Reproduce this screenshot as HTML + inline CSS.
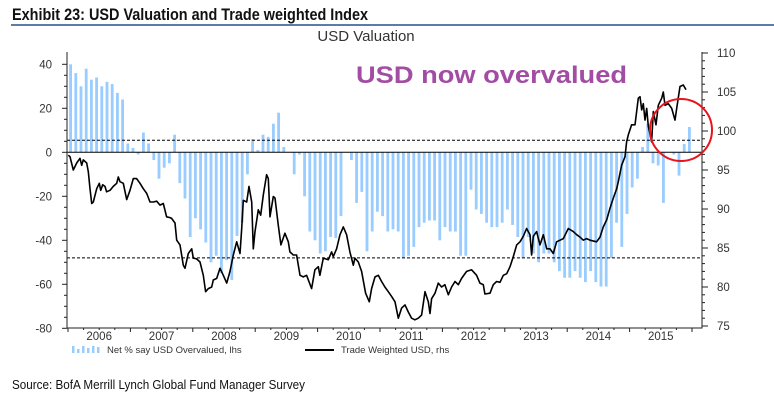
<!DOCTYPE html>
<html><head><meta charset="utf-8"><style>
html,body{margin:0;padding:0;background:#fff;}
svg{display:block;font-family:"Liberation Sans",Arial,sans-serif;}
</style></head><body>
<svg id="chart" width="774" height="407" viewBox="0 0 774 407" xmlns="http://www.w3.org/2000/svg">
<text x="12" y="20" font-size="17" font-weight="bold" fill="#111" textLength="356" lengthAdjust="spacingAndGlyphs">Exhibit 23: USD Valuation and Trade weighted Index</text>
<rect x="11" y="24" width="763" height="2" fill="#5b7ba8"/>
<text x="366" y="41" font-size="15" fill="#333" text-anchor="middle">USD Valuation</text>
<g id="plot"></g>
<text x="356" y="83" font-size="24" font-weight="bold" fill="#a24ca4" textLength="271" lengthAdjust="spacingAndGlyphs">USD now overvalued</text>
<ellipse cx="681" cy="130" rx="31" ry="31" fill="none" stroke="#e8141c" stroke-width="2"/>
<g>
<g fill="#99ccff">
<rect x="72" y="346" width="2.5" height="7"/><rect x="77" y="349" width="2.5" height="4"/><rect x="82" y="346" width="2.5" height="7"/><rect x="87" y="348" width="2.5" height="5"/><rect x="92" y="346" width="2.5" height="7"/><rect x="97" y="347" width="2.5" height="6"/>
</g>
<text x="107" y="353" font-size="9.5" fill="#333">Net % say USD Overvalued, lhs</text>
<rect x="305" y="349" width="29" height="2" fill="#000"/>
<text x="341" y="353" font-size="9.5" fill="#333">Trade Weighted USD, rhs</text>
</g>
<text x="12" y="389" font-size="13" fill="#111" textLength="293" lengthAdjust="spacingAndGlyphs">Source: BofA Merrill Lynch Global Fund Manager Survey</text>
</svg>
<script>
// Monthly bars, Jan 2006 onwards (month index = array position)
const barValues = [40,36,30,38,33,34,30,32,31,27,24,4,2,-1,9,4,-3.5,-12,-7,-5,8,-14,-21,-38.5,-30,-35,-41,-50,-47,-55,-49,-58,-38,-32,-10,6,1,8,7,13,18,2.4,0,-10,-1,-20,-36,-40,-46,-45,-38.5,-39,-29,0,-3.5,-23,-18,-45,-36,-27,-29,-36,-35,-36,-48,-47,-43,-34,-32,-31,-31,-40,-34,-36,-36,-47,-47,-17,-26,-28,-32,-34,-34,-32,-26,-33,-38.5,-48,-38.5,-46,-50,-46,-46,-50,-54,-57,-57,-54,-57,-59,-54,-59,-61,-61,-48,-32,-43,-28,-16,-12,2.4,13,-5,-6,-23,0,-1,-10.6,3.8,11.5];
// Trade weighted USD: month index (from Jan 2006) and value
const lineMonths = [0.06,0.38,1.02,1.67,2.31,2.63,2.95,3.27,3.59,3.91,4.23,4.55,4.87,5.51,6.02,6.28,6.67,7.11,7.43,8.08,8.72,9.36,9.68,10,10.64,11.28,11.92,12.56,13.2,13.84,14.49,15.13,15.77,16.41,17.05,17.69,18.33,18.97,19.61,19.93,20.58,20.9,21.54,22.18,22.5,23.14,23.78,24.1,24.74,25.38,26.02,26.47,26.99,27.63,27.95,28.59,29.23,29.87,30.51,31.15,31.79,32.44,33.08,33.4,33.72,34.36,34.81,35.32,35.64,35.96,36.6,37.05,37.56,38.2,38.52,38.85,39.49,39.8,40.44,40.95,41.72,42.36,42.68,43.33,43.97,44.61,45.25,45.89,46.85,47.49,48.13,48.45,49.1,50.06,50.7,51.02,51.66,52.3,52.94,53.58,54.22,54.86,55.18,55.83,56.47,57.24,57.94,58.39,59.03,59.67,60.31,60.95,61.6,62.24,62.88,63.52,64.16,64.8,65.44,66.08,66.72,67.36,68,68.65,69.29,69.61,69.93,70.57,71.21,71.85,72.49,73.13,73.77,74.42,75.06,75.7,76.66,77.62,78.58,79.22,79.86,80.18,81.15,81.79,82.43,83.07,83.71,84.36,85,85.64,86.28,86.92,87.56,88.2,88.84,89.16,89.48,90.12,90.77,91.41,92.05,92.69,93.33,93.97,94.61,95.25,96.21,97.18,97.82,98.46,99.1,99.74,100.38,101.66,102.3,102.95,103.59,104.23,104.87,105.51,105.83,106.47,107.11,107.43,107.75,108.39,109.03,109.68,110,110.32,110.64,110.96,111.28,111.6,112.24,112.56,113.07,113.52,114.17,114.49,114.8,115.45,116.09,116.73,117.05,117.69,118.33,118.84];
const lineValues = [96.9,96.7,95.0,95.9,96.5,95.6,96.3,96.1,95.9,94.8,92.6,90.7,90.9,92.6,93.3,92.4,93.1,92.9,92.2,92.4,92.9,93.3,94.1,93.5,93.3,91.2,92.4,93.9,93.9,93.3,92.6,92.0,90.9,90.9,91.0,90.5,90.7,89.0,88.9,88.8,88.2,86.0,85.4,82.8,82.4,84.3,84.9,83.7,83.6,83.2,81.5,79.4,79.8,80.0,80.9,81.1,82.4,81.5,80.5,82.0,84.1,85.8,84.3,87.5,91.1,90.9,92.9,90.9,84.9,87.1,89.9,89.2,91.8,94.4,93.9,89.0,91.6,91.4,87.9,85.4,86.9,85.8,84.5,84.1,84.1,81.5,81.3,81.5,79.8,82.2,82.6,81.5,83.7,83.5,84.5,83.9,84.9,86.7,87.7,86.7,84.5,82.8,83.7,83.2,82.0,79.2,78.1,79.8,81.3,81.5,80.7,80.0,79.4,78.8,78.1,76.0,77.3,77.7,76.8,76.0,75.8,76.0,76.4,79.4,78.1,76.6,78.5,79.2,80.5,80.0,80.3,79.0,80.0,80.7,80.3,81.1,82.0,82.2,81.5,80.5,80.3,79.1,79.2,80.3,80.7,80.6,81.5,81.7,82.6,83.9,85.4,85.8,86.5,87.5,86.7,84.1,86.5,87.1,85.4,86.7,84.9,84.9,84.3,85.8,86.0,86.2,87.5,87.1,86.7,86.4,86.0,86.2,86.0,85.8,86.4,87.7,88.6,90.1,91.4,92.6,93.5,95.6,96.7,98.6,99.5,100.8,100.8,104.2,104.4,102.7,103.5,101.4,102.9,100.6,98.6,102.5,100.8,103.3,104.2,105.0,103.3,103.5,102.9,101.4,102.9,105.7,105.9,105.3];
const yearLabels = ["2006","2007","2008","2009","2010","2011","2012","2013","2014","2015"];
const leftTicks = [40,20,0,-20,-40,-60,-80];
const rightTicks = [110,105,100,95,90,85,80,75];
const refLines = [5.5,-48];

const NS="http://www.w3.org/2000/svg";
const plot=document.getElementById('plot');
const X0=68, MW=5.2, AXL=67, AXR=702;
const xm = m => X0 + m*MW;
const yl = v => 152.3 - v*2.2;
const yr = v => 53 + (110-v)*7.8;
function mk(tag,attrs){const e=document.createElementNS(NS,tag);for(const k in attrs)e.setAttribute(k,attrs[k]);plot.appendChild(e);return e;}

// bars
barValues.forEach((v,i)=>{
  const y0=yl(0), y1=yl(v);
  const r=mk('rect',{x:xm(i+0.5)-1.4,y:Math.min(y0,y1),width:2.8,height:Math.max(0.01,Math.abs(y1-y0)),fill:'#99ccff'});
  
  
});
// zero and reference lines
const z=mk('line',{x1:AXL,x2:AXR,y1:yl(0),y2:yl(0),stroke:'#000','stroke-width':1});


refLines.forEach((v,i)=>{
  const l=mk('line',{x1:AXL,x2:AXR,y1:yl(v),y2:yl(v),stroke:'#000','stroke-width':1,'stroke-dasharray':'3,2'});
  
  
});
// line series
let d='';
lineMonths.forEach((m,i)=>{d+=(i?'L':'M')+xm(m).toFixed(1)+' '+yr(lineValues[i]).toFixed(1);});
const p=mk('path',{d:d,fill:'none',stroke:'#000','stroke-width':1.6,'stroke-linejoin':'round'});



// axes
const la=mk('line',{x1:AXL,x2:AXL,y1:52,y2:328.5,stroke:'#222','stroke-width':1});


const ra=mk('line',{x1:AXR,x2:AXR,y1:52,y2:328.5,stroke:'#222','stroke-width':1});


const xa=mk('line',{x1:AXL,x2:AXR,y1:328,y2:328,stroke:'#222','stroke-width':1});


for(let v=-80;v<=40;v+=5){
  const major=(v%20===0);
  mk('line',{x1:AXL-(major?5:3),x2:AXL,y1:yl(v),y2:yl(v),stroke:'#222','stroke-width':1});
}
leftTicks.forEach(v=>{
  const t=mk('text',{x:52,y:yl(v)+4,'font-size':11.5,'text-anchor':'end',fill:'#333'});
  t.textContent=v;
  
  
});
for(let v=75;v<=110;v+=1){
  const major=(v%5===0);
  mk('line',{x1:AXR,x2:AXR+(major?6:3),y1:yr(v),y2:yr(v),stroke:'#222','stroke-width':1});
}
rightTicks.forEach(v=>{
  const t=mk('text',{x:717,y:yr(v)+4,'font-size':11.5,fill:'#333'});
  t.textContent=v;
  
  
});
for(let q=0;q<=40;q++){
  const xx=xm(q*3);
  if(xx>AXR) break;
  mk('line',{x1:xx,x2:xx,y1:328,y2:q%4===0?332:330,stroke:'#222','stroke-width':1});
}
yearLabels.forEach((s,i)=>{
  const t=mk('text',{x:xm(i*12+6),y:340,'font-size':11.5,'text-anchor':'middle',fill:'#333'});
  t.textContent=s;
  
  
});
</script>
</body></html>
